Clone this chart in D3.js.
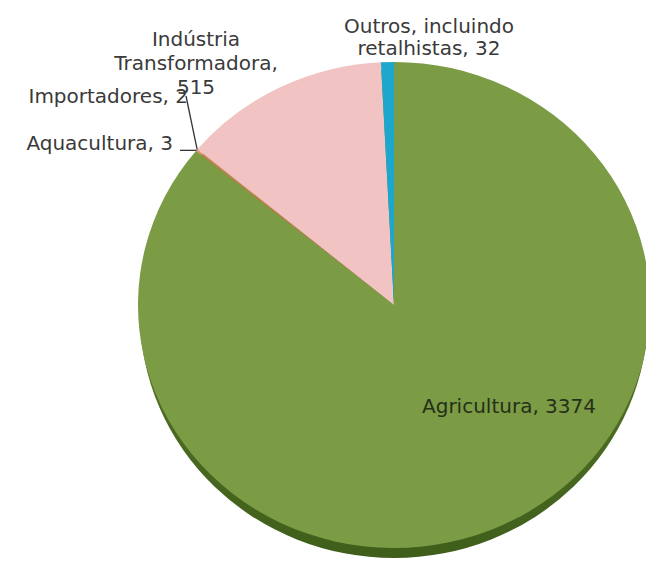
<!DOCTYPE html>
<html>
<head>
<meta charset="utf-8">
<script src="https://cdn.jsdelivr.net/npm/d3@7"></script>
<style>
  html, body { margin: 0; padding: 0; background: #fff; }
  text { font-family: "DejaVu Sans", Verdana, sans-serif; font-size: 20px; fill: #3a3a3a; }
</style>
</head>
<body>
<div id="chart"></div>
<script>
const categories = ["Agricultura", "Aquacultura", "Importadores", "Indústria Transformadora", "Outros, incluindo retalhistas"];
const values = [3374, 3, 2, 515, 32];
const colors = ["#7b9b45", "#e07a4a", "#d88a6a", "#f1c3c3", "#1ca7cf"];

const width = 646, height = 563;
const cx = 394, cy = 305, rx = 256, ry = 243;

const svg = d3.select("#chart").append("svg")
    .attr("width", width)
    .attr("height", height);

const pie = d3.pie().sort(null).value(d => d)(values);
const arc = d3.arc().innerRadius(0).outerRadius(rx);

// darker rim underneath for the 3d look
const defs = svg.append("defs");
const rim = defs.append("linearGradient").attr("id", "rim")
    .attr("x1", 0).attr("y1", 0).attr("x2", 0).attr("y2", 1);
rim.append("stop").attr("offset", "0%").attr("stop-color", "#6d8d38");
rim.append("stop").attr("offset", "100%").attr("stop-color", "#3f5e1a");

svg.append("ellipse")
    .attr("cx", cx).attr("cy", cy + 9)
    .attr("rx", rx - 2).attr("ry", ry + 1)
    .attr("fill", "url(#rim)");

const g = svg.append("g")
    .attr("transform", `translate(${cx},${cy}) scale(1,${ry / rx})`);

g.selectAll("path")
    .data(pie)
    .enter().append("path")
    .attr("d", arc)
    .attr("fill", (d, i) => colors[i]);

// point on the ellipse edge at a slice's mid angle
function edgePoint(d) {
    const a = (d.startAngle + d.endAngle) / 2;
    return [cx + rx * Math.sin(a), cy - ry * Math.cos(a)];
}

// leader lines for the two tiny slices
const pAqua = edgePoint(pie[1]);
const pImp = edgePoint(pie[2]);
svg.append("path")
    .attr("d", `M${pAqua[0]},${pAqua[1]}L180,${pAqua[1]}`)
    .attr("stroke", "#333").attr("stroke-width", 1.3).attr("fill", "none");
svg.append("path")
    .attr("d", `M${pImp[0]},${pImp[1]}L186,96`)
    .attr("stroke", "#333").attr("stroke-width", 1.3).attr("fill", "none");

const labels = [
    { lines: ["Agricultura, " + values[0]], x: 422, y: 413, anchor: "start", fill: "#25301a" },
    { lines: ["Aquacultura, " + values[1]], x: 173, y: 150, anchor: "end" },
    { lines: ["Importadores, " + values[2]], x: 188, y: 103, anchor: "end" },
    { lines: ["Indústria", "Transformadora,", "" + values[3]], x: 196, y: 46, anchor: "middle", dy: 24 },
    { lines: ["Outros, incluindo", "retalhistas, " + values[4]], x: 429, y: 33, anchor: "middle", dy: 22 }
];

labels.forEach(l => {
    const t = svg.append("text")
        .attr("x", l.x).attr("y", l.y)
        .attr("text-anchor", l.anchor);
    if (l.fill) t.style("fill", l.fill);
    l.lines.forEach((s, i) => {
        t.append("tspan")
            .attr("x", l.x)
            .attr("dy", i === 0 ? 0 : l.dy)
            .text(s);
    });
});
</script>
</body>
</html>
